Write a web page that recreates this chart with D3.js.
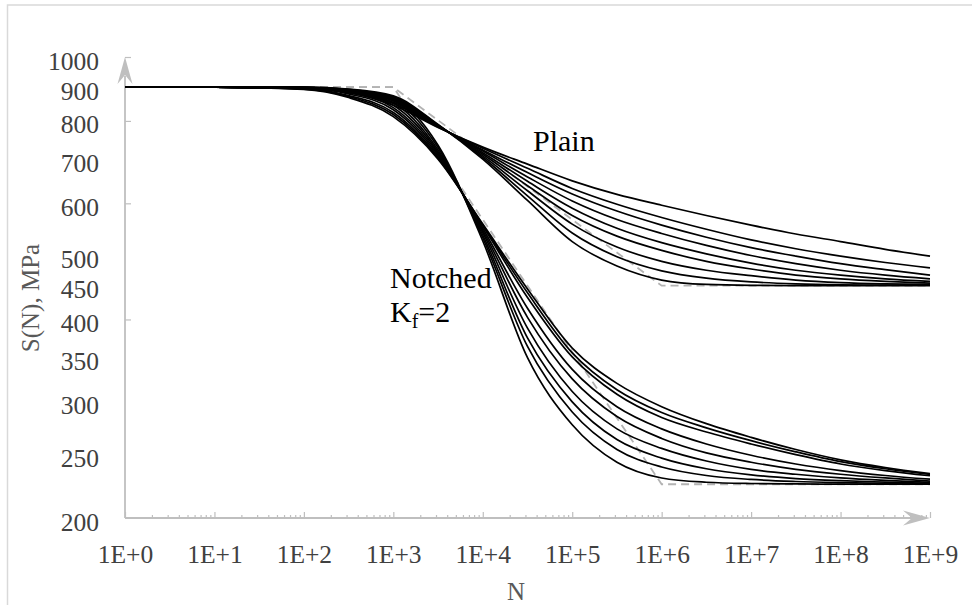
<!DOCTYPE html>
<html><head><meta charset="utf-8">
<script src="https://cdn.jsdelivr.net/npm/d3@7"></script>
<style>body{margin:0;background:#fff}svg{display:block}</style>
</head><body>
<svg width="972" height="605"></svg>
<script>
// ---- data ----
const cycles = [1, 10, 100, 316.2, 1000, 3162, 1e4, 31623, 1e5, 316228, 1e6, 3162278, 1e7, 31622777, 1e8, 316227766, 1e9];

const plain1 = [900, 900, 897, 884, 845, 782, 730, 688, 649, 619, 596, 575, 556, 539, 525, 511, 499];
const plain2 = [900, 900, 898, 886, 850, 783, 727, 678, 632, 598, 571, 548, 528, 512, 499, 488, 479];
const plain3 = [900, 900, 898, 887, 854, 784, 723, 668, 620, 584, 556, 533, 514, 499, 486, 476, 467];
const plain4 = [900, 900, 899, 888, 858, 785, 720, 658, 605, 567, 540, 518, 500, 486, 475, 467, 461];
const plain5 = [900, 900, 899, 889, 861, 786, 716, 648, 590, 550, 523, 503, 487, 475, 467, 461, 457];
const plain6 = [900, 900, 899, 890, 864, 787, 712, 638, 575, 535, 509, 490, 477, 467, 461, 457, 454];
const plain7 = [900, 900, 899, 891, 867, 788, 708, 627, 558, 515, 490, 475, 466, 459, 455, 453, 452];
const plain8 = [900, 900, 900, 892, 870, 789, 704, 616, 541, 498, 474, 462, 456, 453, 451.5, 451, 451];
const plain9 = [900, 900, 900, 894, 873, 790, 700, 606, 525, 482, 459, 452, 450.5, 450.2, 450, 450, 450];

const notched1 = [900, 900, 893, 868, 812, 700, 558, 445, 362, 320, 295, 278, 265, 254, 245, 238.5, 233.5];
const notched2 = [900, 900, 894, 871, 818, 703, 556, 439, 356, 313, 289, 274, 262, 252, 243.5, 237.5, 232.8];
const notched3 = [900, 900, 895, 874, 824, 706, 554, 432, 351, 308, 284, 270, 259, 249.5, 241.5, 236, 231.8];
const notched4 = [900, 900, 896, 879, 832, 710, 550, 416, 336, 295, 273, 259, 249, 241.5, 236, 232, 229];
const notched5 = [900, 900, 897, 883, 838, 714, 546, 403, 325, 285, 264, 251, 243, 237, 233, 230, 227.5];
const notched6 = [900, 900, 897.5, 886, 845, 718, 542, 388, 311, 273, 255, 244, 237, 233, 230, 228, 226.5];
const notched7 = [900, 900, 898, 888, 852, 723, 537, 375, 300, 263, 246.5, 237.5, 232.5, 229.5, 227.8, 226.7, 225.8];
const notched8 = [900, 900, 898.5, 891, 859, 729, 532, 364, 289.5, 254, 239, 232, 228.8, 227.2, 226.3, 225.7, 225.3];
const notched9 = [900, 900, 899, 893, 866, 735, 526, 350, 277, 243, 230, 226.6, 225.6, 225.3, 225.1, 225, 225];

const dashCycles = [1, 1e3, 1e6, 1e9];
const plainDash = [900, 900, 450, 450];
const notchedDash = [900, 900, 225, 225];

const xTicks = [1, 10, 100, 1e3, 1e4, 1e5, 1e6, 1e7, 1e8, 1e9];
const xTickLabels = ["1E+0", "1E+1", "1E+2", "1E+3", "1E+4", "1E+5", "1E+6", "1E+7", "1E+8", "1E+9"];
const yLabels = [200, 250, 300, 350, 400, 450, 500, 600, 700, 800, 900, 1000];
const yMarks = [400, 600, 800, 1000];

// ---- drawing ----
const svg = d3.select("svg");
const x = d3.scaleLog().domain([1, 1e9]).range([125, 930]);
const y = d3.scaleLog().domain([200, 1000]).range([518, 57]);
const axisGray = "#bfbfbf";
const font = "'Liberation Serif', 'Times New Roman', serif";

// frame
svg.append("rect").attr("x", 7.5).attr("y", 5).attr("width", 1000).attr("height", 700)
  .attr("fill", "none").attr("stroke", "#d9d9d9").attr("stroke-width", 1.5);

// x minor ticks
const xMinor = d3.range(0, 9).flatMap(e => d3.range(2, 10).map(m => m * Math.pow(10, e)));
const gxm = svg.append("g").attr("transform", "translate(0,518)")
  .call(d3.axisBottom(x).tickValues(xMinor).tickSize(-3).tickSizeOuter(0).tickFormat(""));
gxm.select(".domain").remove();
gxm.selectAll("line").attr("stroke", axisGray).attr("stroke-width", 1.2);

// x major ticks + labels
const gx = svg.append("g").attr("transform", "translate(0,518)")
  .call(d3.axisBottom(x).tickValues(xTicks).tickSize(-6).tickSizeOuter(0).tickPadding(27)
    .tickFormat((d, i) => xTickLabels[i]));
gx.select(".domain").remove();
gx.selectAll("line").attr("stroke", axisGray).attr("stroke-width", 1.2);
gx.attr("font-family", font).attr("font-size", 25.5);
gx.selectAll("text").attr("fill", "#404040");

// y tick marks
const gym = svg.append("g").attr("transform", "translate(125,0)")
  .call(d3.axisRight(y).tickValues(yMarks).tickSize(6).tickSizeOuter(0).tickFormat(""));
gym.select(".domain").remove();
gym.selectAll("line").attr("stroke", axisGray).attr("stroke-width", 1.2);

// y labels
const gy = svg.append("g").attr("transform", "translate(125,0)")
  .call(d3.axisLeft(y).tickValues(yLabels).tickSize(0).tickSizeOuter(0).tickPadding(26)
    .tickFormat(d3.format("d")));
gy.select(".domain").remove();
gy.attr("font-family", font).attr("font-size", 25.5);
gy.selectAll("text").attr("fill", "#404040").attr("dy", "0.47em");

// axis lines with arrows
svg.append("line").attr("x1", 125).attr("y1", 518).attr("x2", 912).attr("y2", 518)
  .attr("stroke", axisGray).attr("stroke-width", 1.8);
svg.append("line").attr("x1", 125).attr("y1", 518).attr("x2", 125).attr("y2", 76)
  .attr("stroke", axisGray).attr("stroke-width", 1.8);
svg.append("path").attr("d", "M930,518 L903,510.5 L912,518 L903,525.5 Z").attr("fill", axisGray);
svg.append("path").attr("d", "M125,57 L117.5,84 L125,75 L132.5,84 Z").attr("fill", axisGray);

// dashed bounds
const dashLine = d3.line().x(d => x(d[0])).y(d => y(d[1]));
[plainDash, notchedDash].forEach(s => {
  svg.append("path").attr("d", dashLine(dashCycles.map((n, i) => [n, s[i]])))
    .attr("fill", "none").attr("stroke", "#b3b3b3").attr("stroke-width", 1.8)
    .attr("stroke-dasharray", "8,5");
});

// curves
const curve = d3.line().x(d => x(d[0])).y(d => y(d[1])).curve(d3.curveMonotoneX);
const series = [plain1, plain2, plain3, plain4, plain5, plain6, plain7, plain8, plain9,
  notched1, notched2, notched3, notched4, notched5, notched6, notched7, notched8, notched9];
series.forEach(s => {
  svg.append("path").attr("d", curve(cycles.map((n, i) => [n, s[i]])))
    .attr("fill", "none").attr("stroke", "#000").attr("stroke-width", 1.7);
});

// annotations
svg.append("text").attr("x", 533).attr("y", 151).attr("font-family", font).attr("font-size", 30)
  .attr("fill", "#000").text("Plain");
svg.append("text").attr("x", 390).attr("y", 288).attr("font-family", font).attr("font-size", 30)
  .attr("fill", "#000").text("Notched");
const kt = svg.append("text").attr("x", 390).attr("y", 322).attr("font-family", font).attr("font-size", 30)
  .attr("fill", "#000");
kt.append("tspan").text("K");
kt.append("tspan").attr("font-size", 20).attr("dy", 6).text("f");
kt.append("tspan").attr("dy", -6).text("=2");

// axis titles
svg.append("text").attr("transform", "translate(39,298) rotate(-90)").attr("text-anchor", "middle")
  .attr("font-family", font).attr("font-size", 25).attr("fill", "#595959").text("S(N), MPa");
svg.append("text").attr("x", 516).attr("y", 600).attr("text-anchor", "middle")
  .attr("font-family", font).attr("font-size", 25).attr("fill", "#595959").text("N");
</script>
</body></html>
